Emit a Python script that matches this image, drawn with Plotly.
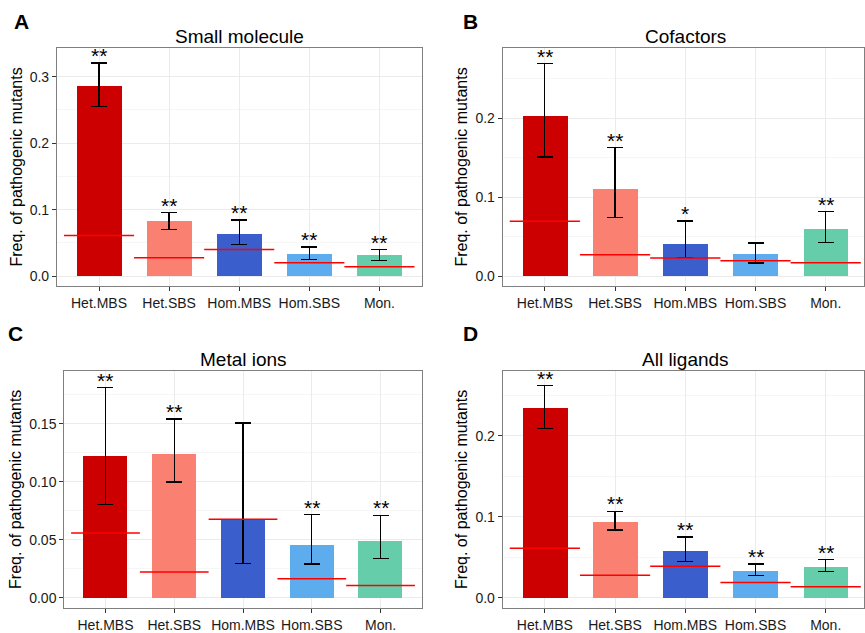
import plotly.graph_objects as go

categories = ["Het.MBS", "Het.SBS", "Hom.MBS", "Hom.SBS", "Mon."]
colors = ["#CC0000", "#FA8072", "#3A5FCD", "#5CACEE", "#66CDAA"]

titles = ["Small molecule", "Cofactors", "Metal ions", "All ligands"]
letters = ["A", "B", "C", "D"]

# Small molecule
sm_freq = [0.2865, 0.0825, 0.063, 0.033, 0.0315]
sm_upper = [0.3205, 0.0955, 0.0845, 0.044, 0.040]
sm_lower = [0.255, 0.0705, 0.0475, 0.025, 0.024]
sm_expected = [0.061, 0.0275, 0.040, 0.020, 0.014]
sm_stars = ["**", "**", "**", "**", "**"]

# Cofactors
co_freq = [0.2033, 0.111, 0.0404, 0.0278, 0.0593]
co_upper = [0.269, 0.1625, 0.0699, 0.042, 0.0817]
co_lower = [0.1507, 0.0745, 0.0236, 0.0168, 0.0425]
co_expected = [0.0694, 0.027, 0.023, 0.0194, 0.0168]
co_stars = ["**", "**", "*", "", "**"]

# Metal ions
mi_freq = [0.1226, 0.1243, 0.0682, 0.0461, 0.0496]
mi_upper = [0.181, 0.154, 0.1507, 0.0716, 0.071]
mi_lower = [0.0805, 0.0997, 0.0298, 0.0292, 0.0338]
mi_expected = [0.0558, 0.0223, 0.0676, 0.0163, 0.0106]
mi_stars = ["**", "**", "", "**", "**"]

# All ligands
al_freq = [0.2346, 0.0943, 0.0587, 0.0341, 0.039]
al_upper = [0.2616, 0.1066, 0.075, 0.0418, 0.0472]
al_lower = [0.2091, 0.0837, 0.0451, 0.0271, 0.0328]
al_expected = [0.0611, 0.0279, 0.039, 0.0189, 0.0135]
al_stars = ["**", "**", "**", "**", "**"]

panels = [
    (sm_freq, sm_upper, sm_lower, sm_expected, sm_stars),
    (co_freq, co_upper, co_lower, co_expected, co_stars),
    (mi_freq, mi_upper, mi_lower, mi_expected, mi_stars),
    (al_freq, al_upper, al_lower, al_expected, al_stars),
]

W, H = 865, 633
# panel pixel boxes: (x0, x1, y0(top), y1(bottom))
boxes = [(57, 422, 48, 287), (503.3, 865, 48, 287),
         (64.3, 422.3, 371.7, 610), (503.3, 865, 371.7, 610)]
full_w = [365, 365.6, 358, 365.6]
xranges = [[-0.6, 4.6], [-0.6, -0.6 + (865 - 503.3) / 70.3],
           [-0.6, 4.6], [-0.6, -0.6 + (865 - 503.3) / 70.3]]
yranges = [[-0.015, 0.3435], [-0.0126, 0.289], [-0.0089, 0.1959], [-0.0127, 0.2804]]
ytickvals = [[0, 0.1, 0.2, 0.3], [0, 0.1, 0.2], [0, 0.05, 0.10, 0.15], [0, 0.1, 0.2]]
yticktext = [["0.0", "0.1", "0.2", "0.3"], ["0.0", "0.1", "0.2"],
             ["0.00", "0.05", "0.10", "0.15"], ["0.0", "0.1", "0.2"]]
ydticks = [0.1, 0.1, 0.05, 0.1]

FONT = "Liberation Sans, Arial, sans-serif"
fig = go.Figure()
annotations = []
layout = {}
xs = list(range(len(categories)))

for p, (freq, up, lo, exp, stars) in enumerate(panels):
    sfx = "" if p == 0 else str(p + 1)
    xa, ya = "x" + sfx, "y" + sfx
    fig.add_trace(go.Bar(
        x=xs, y=freq, width=0.64, marker=dict(color=colors, line=dict(width=0)),
        error_y=dict(type="data", symmetric=False,
                     array=[u - f for u, f in zip(up, freq)],
                     arrayminus=[f - l for f, l in zip(freq, lo)],
                     color="black", thickness=1.3, width=8),
        xaxis=xa, yaxis=ya, showlegend=False, hoverinfo="skip"))
    lx, ly = [], []
    for i, e in enumerate(exp):
        lx += [i - 0.5, i + 0.5, None]
        ly += [e, e, None]
    fig.add_trace(go.Scatter(x=lx, y=ly, mode="lines",
                             line=dict(color="#FF0000", width=1.5),
                             xaxis=xa, yaxis=ya, showlegend=False, hoverinfo="skip"))
    for i, s in enumerate(stars):
        if s:
            annotations.append(dict(x=i, y=up[i], xref=xa, yref=ya, text=s,
                                    showarrow=False, yanchor="bottom", yshift=-6,
                                    font=dict(family=FONT, size=21, color="black")))
    x0, x1, t, b = boxes[p]
    dom_x = [x0 / W, x1 / W]
    dom_y = [(H - b) / H, (H - t) / H]
    layout["xaxis" + sfx] = dict(
        domain=dom_x, range=xranges[p], anchor=ya, tickvals=xs, ticktext=categories,
        showgrid=True, gridcolor="#EBEBEB", gridwidth=1, zeroline=False,
        showline=True, linecolor="#7F7F7F", linewidth=1, mirror=True,
        ticks="outside", ticklen=4, tickcolor="#333333", tickwidth=1,
        tickfont=dict(family=FONT, size=14, color="#1a1a1a"), fixedrange=True)
    layout["yaxis" + sfx] = dict(
        domain=dom_y, range=yranges[p], anchor=xa, tickvals=ytickvals[p],
        ticktext=yticktext[p],
        showgrid=True, gridcolor="#EBEBEB", gridwidth=1, zeroline=False,
        minor=dict(dtick=ydticks[p] / 2, tick0=ydticks[p] / 2, showgrid=True,
                   gridcolor="#F6F6F6", gridwidth=1),
        showline=True, linecolor="#7F7F7F", linewidth=1, mirror=True,
        ticks="outside", ticklen=4, tickcolor="#333333", tickwidth=1,
        tickfont=dict(family=FONT, size=14, color="#1a1a1a"),
        title=dict(text="Freq. of pathogenic mutants", standoff=3,
                   font=dict(family=FONT, size=16, color="black")),
        fixedrange=True)
    # title centered over the full panel width
    cx = (x0 + full_w[p] / 2) / W
    annotations.append(dict(x=cx, y=1 - (t - 11) / H, xref="paper", yref="paper",
                            text=titles[p], showarrow=False, xanchor="center", yanchor="middle",
                            font=dict(family=FONT, size=19, color="black")))
    # panel letter
    lxp = {0: 22, 1: 471, 2: 16, 3: 471}[p]
    lyp = 22 if p < 2 else 335
    annotations.append(dict(x=lxp / W, y=1 - lyp / H, xref="paper", yref="paper",
                            text="<b>" + letters[p] + "</b>", showarrow=False,
                            xanchor="center", yanchor="middle",
                            font=dict(family=FONT, size=21, color="black")))

fig.update_layout(**layout)
fig.update_layout(width=W, height=H, margin=dict(l=0, r=0, t=0, b=0),
                  plot_bgcolor="white", paper_bgcolor="white",
                  annotations=annotations, bargap=0)
fig.write_html("out.html")
